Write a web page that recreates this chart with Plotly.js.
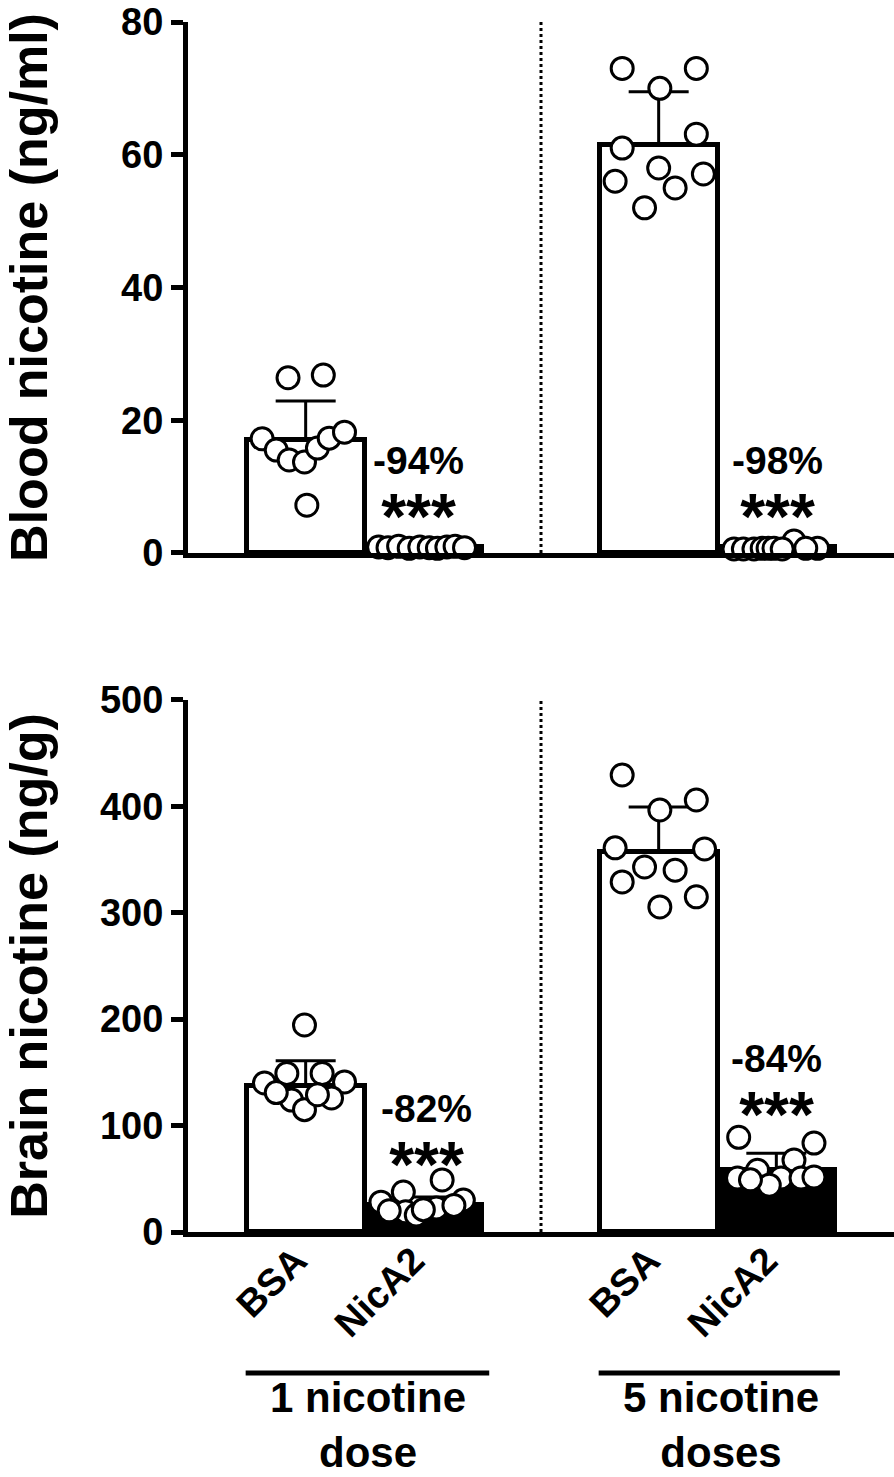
<!DOCTYPE html>
<html>
<head>
<meta charset="utf-8">
<script src="https://cdn.plot.ly/plotly-3.0.1.min.js"></script>
<style>body{margin:0;background:#fff}</style>
</head>
<body>
<div id="plot" style="width:894px;height:1477px"></div>
<script>
// bar positions: BSA / NicA2 for 1 dose, then BSA / NicA2 for 5 doses
var groupPos = [0, 1, 3, 4];
var groupNames = ['BSA', 'NicA2', 'BSA', 'NicA2'];
var barFill = ['white', 'black', 'white', 'black'];

// blood nicotine (ng/ml)
var bloodMean = [17.0, 0.9, 61.5, 0.9];
var bloodSD = [5.9, 0.3, 8.0, 0.5];
var bloodBsa1 = [26.4, 26.8, 17.2, 15.5, 14.0, 13.7, 15.8, 17.3, 18.2, 7.2];
var bloodBsa1Jit = [-0.15, 0.15, -0.37, -0.25, -0.14, -0.01, 0.10, 0.20, 0.33, 0.01];
var bloodNic1 = [0.9, 0.8, 1.0, 0.7, 0.9, 0.8, 0.7, 0.9, 1.0, 0.8];
var bloodNic1Jit = [-0.38, -0.30, -0.21, -0.12, -0.03, 0.05, 0.12, 0.20, 0.27, 0.35];
var bloodBsa5 = [73.0, 73.0, 70.0, 63.1, 61.0, 58.0, 56.0, 55.0, 57.1, 52.0];
var bloodBsa5Jit = [-0.31, 0.32, 0.01, 0.32, -0.31, 0.0, -0.37, 0.14, 0.38, -0.12];
var bloodNic5 = [0.6, 0.6, 0.6, 0.7, 0.7, 0.7, 1.8, 0.7, 0.6, 0.7];
var bloodNic5Jit = [-0.36, -0.28, -0.19, -0.12, -0.07, -0.02, 0.15, 0.35, 0.05, 0.25];

// brain nicotine (ng/g)
var brainMean = [137, 25, 357.5, 58];
var brainSD = [24, 8, 42, 16];
var brainBsa1 = [194.5, 149, 149, 140, 141, 124, 126, 115, 131, 129];
var brainBsa1Jit = [-0.01, -0.16, 0.14, -0.35, 0.33, -0.12, 0.22, -0.01, -0.25, 0.10];
var brainNic1 = [48.9, 37.6, 28, 30, 22.6, 19, 16, 25, 20, 21];
var brainNic1Jit = [0.16, -0.17, -0.36, 0.34, 0.11, -0.15, -0.06, 0.26, -0.29, 0.0];
var brainBsa5 = [429.5, 396.6, 406, 361, 360, 343, 340, 329, 315, 305.5];
var brainBsa5Jit = [-0.31, 0.01, 0.32, -0.37, 0.39, -0.12, 0.14, -0.31, 0.32, 0.01];
var brainNic5 = [89, 83.6, 67.6, 58, 50.7, 50.7, 50.7, 51.7, 44, 49];
var brainNic5Jit = [-0.32, 0.32, 0.15, -0.16, -0.33, 0.04, 0.21, 0.32, -0.06, -0.22];

var reductions = ['-94%', '-98%', '-82%', '-84%'];
var doseLabels = ['1 nicotine<br>dose', '5 nicotine<br>doses'];

var FONT = 'Liberation Sans, Arial, sans-serif';

function barTrace(mean, sd, xa, ya) {
  return {
    type: 'bar', x: groupPos, y: mean, width: 1, xaxis: xa, yaxis: ya,
    marker: {color: barFill, line: {color: 'black', width: 5}},
    error_y: {type: 'data', symmetric: false, array: sd, arrayminus: [0, 0, 0, 0],
      color: 'black', thickness: 3, width: 30},
    showlegend: false, hoverinfo: 'y'
  };
}

function dotTrace(vals, jit, pos, xa, ya) {
  return {
    type: 'scatter', mode: 'markers', xaxis: xa, yaxis: ya, cliponaxis: false,
    x: jit.map(function (j) { return pos + j; }), y: vals,
    marker: {symbol: 'circle', size: 22, color: 'white', line: {color: 'black', width: 3}},
    showlegend: false, hoverinfo: 'y'
  };
}

var data = [
  barTrace(bloodMean, bloodSD, 'x', 'y'),
  dotTrace(bloodBsa1, bloodBsa1Jit, groupPos[0], 'x', 'y'),
  dotTrace(bloodNic1, bloodNic1Jit, groupPos[1], 'x', 'y'),
  dotTrace(bloodBsa5, bloodBsa5Jit, groupPos[2], 'x', 'y'),
  dotTrace(bloodNic5, bloodNic5Jit, groupPos[3], 'x', 'y'),
  barTrace(brainMean, brainSD, 'x2', 'y2'),
  dotTrace(brainBsa1, brainBsa1Jit, groupPos[0], 'x2', 'y2'),
  dotTrace(brainNic1, brainNic1Jit, groupPos[1], 'x2', 'y2'),
  dotTrace(brainBsa5, brainBsa5Jit, groupPos[2], 'x2', 'y2'),
  dotTrace(brainNic5, brainNic5Jit, groupPos[3], 'x2', 'y2')
];

var tickFont = {family: FONT, size: 38, color: 'black', weight: 'bold'};
var titleFont = {family: FONT, size: 52, color: 'black', weight: 'bold'};

function xAxis(anchor, labels) {
  return {
    anchor: anchor, domain: [0, 1], range: [-1, 5],
    showline: true, linewidth: 5, linecolor: 'black',
    showgrid: false, zeroline: false, ticks: '',
    tickvals: groupPos, ticktext: groupNames, tickangle: -45,
    ticklabelshift: -10, ticklabelstandoff: -14,
    showticklabels: labels, tickfont: tickFont
  };
}

function yAxis(anchor, dom, rng, dt, title) {
  return {
    anchor: anchor, domain: dom, range: rng, dtick: dt,
    showline: true, linewidth: 5, linecolor: 'black',
    ticks: 'outside', ticklen: 12, tickwidth: 5, tickcolor: 'black',
    showgrid: false, zeroline: false, tickfont: tickFont, automargin: false,
    title: {text: title, font: titleFont, standoff: 58}
  };
}

// percent change with significance stars below it, one text block per bar
function sigText(pct) {
  return '<span style="font-size:39px">' + pct + '</span><br>' +
    '<span style="font-size:64px">***</span>';
}

var sigFont = {family: FONT, size: 50, color: 'black', weight: 'bold'};
var doseFont = {family: FONT, size: 42, color: 'black', weight: 'bold'};
var annotations = [
  {xref: 'x', yref: 'y', x: 0.96, y: 8.55, text: sigText(reductions[0])},
  {xref: 'x', yref: 'y', x: 4.01, y: 8.55, text: sigText(reductions[1])},
  {xref: 'x2', yref: 'y2', x: 1.03, y: 82.8, text: sigText(reductions[2])},
  {xref: 'x2', yref: 'y2', x: 4.0, y: 129.8, text: sigText(reductions[3])},
  {xref: 'x2', yref: 'paper', x: 0.53, y: -0.1595, text: doseLabels[0], font: doseFont},
  {xref: 'x2', yref: 'paper', x: 3.53, y: -0.1595, text: doseLabels[1], font: doseFont}
].map(function (a) {
  a.showarrow = false; a.font = a.font || sigFont; a.xanchor = 'center'; a.yanchor = 'middle';
  return a;
});

var shapes = [
  {type: 'line', xref: 'x', yref: 'y domain', x0: 2, x1: 2, y0: 0, y1: 1,
    line: {color: 'black', width: 3, dash: 'dot'}},
  {type: 'line', xref: 'x2', yref: 'y2 domain', x0: 2, x1: 2, y0: 0, y1: 1,
    line: {color: 'black', width: 3, dash: 'dot'}},
  {type: 'line', xref: 'x2', yref: 'paper', x0: -0.51, x1: 1.56, y0: -0.1165, y1: -0.1165,
    line: {color: 'black', width: 5}},
  {type: 'line', xref: 'x2', yref: 'paper', x0: 2.49, x1: 4.54, y0: -0.1165, y1: -0.1165,
    line: {color: 'black', width: 5}}
];

var layout = {
  width: 894, height: 1477,
  margin: {l: 188, r: 0, t: 22, b: 245},
  paper_bgcolor: 'white', plot_bgcolor: 'white',
  showlegend: false, bargap: 0,
  xaxis: xAxis('y', false),
  yaxis: yAxis('x', [0.5612, 1], [0, 80], 20, 'Blood nicotine (ng/ml)'),
  xaxis2: xAxis('y2', true),
  yaxis2: yAxis('x2', [0, 0.4397], [0, 500], 100, 'Brain nicotine (ng/g)'),
  annotations: annotations,
  shapes: shapes
};

Plotly.newPlot('plot', data, layout, {displayModeBar: false});
</script>
</body>
</html>
